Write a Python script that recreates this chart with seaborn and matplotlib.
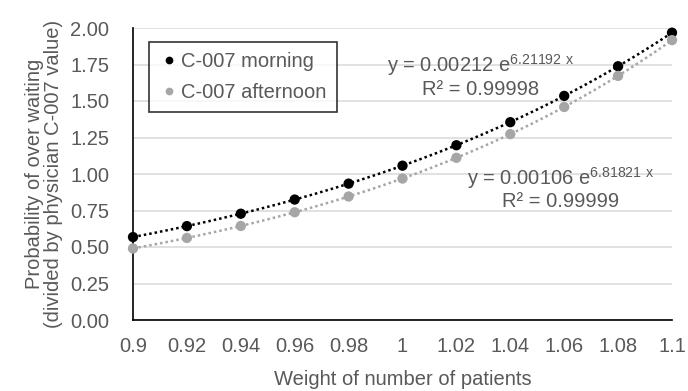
import numpy as np
import pandas as pd
import matplotlib
matplotlib.use("Agg")
import matplotlib.pyplot as plt
import seaborn as sns
from matplotlib.ticker import MultipleLocator, FuncFormatter

weights = [0.90, 0.92, 0.94, 0.96, 0.98, 1.00, 1.02, 1.04, 1.06, 1.08, 1.10]
morning = [0.568, 0.643, 0.728, 0.825, 0.934, 1.057, 1.197, 1.355, 1.535, 1.738, 1.968]
afternoon = [0.490, 0.562, 0.644, 0.738, 0.846, 0.969, 1.111, 1.273, 1.459, 1.672, 1.917]
series_names = ["C-007 morning", "C-007 afternoon"]
eq_texts = ["y = 0.00212 e$^{6.21192\\ x}$\nR² = 0.99998",
            "y = 0.00106 e$^{6.81821\\ x}$\nR² = 0.99999"]

sns.set_style("white")
plt.rcParams['font.family'] = ['Liberation Sans', 'DejaVu Sans']
plt.rcParams['mathtext.default'] = 'regular'

FS = 14.5
text_color = "#595959"
colors = {"C-007 morning": "#000000", "C-007 afternoon": "#A6A6A6"}

df = pd.DataFrame({
    "x": weights * 2,
    "y": morning + afternoon,
    "series": [series_names[0]] * len(weights) + [series_names[1]] * len(weights),
})

fig = plt.figure(figsize=(6.88, 3.91), dpi=100)
ax = fig.add_axes([133/688, 1 - 320/391, (672-133)/688, (320-28)/391])

# trendlines (exponential fit)
xs = np.linspace(min(weights), max(weights), 200)
for name, vals in zip(series_names, [morning, afternoon]):
    b, ln_a = np.polyfit(weights, np.log(vals), 1)
    ys = np.exp(ln_a) * np.exp(b * xs)
    sns.lineplot(x=xs, y=ys, ax=ax, color=colors[name], linestyle=(0, (1, 1.2)),
                 linewidth=1.8, legend=False, zorder=2)

sns.scatterplot(data=df, x="x", y="y", hue="series", palette=colors, ax=ax,
                s=55, edgecolor="none", zorder=3, clip_on=False)

ax.set_xlim(0.9, 1.1)
ax.set_ylim(0, 2.0)
ax.yaxis.set_major_locator(MultipleLocator(0.25))
ax.yaxis.set_minor_locator(MultipleLocator(0.125))
ax.xaxis.set_major_locator(MultipleLocator(0.02))
ax.xaxis.set_minor_locator(MultipleLocator(0.005))
ax.yaxis.set_major_formatter(FuncFormatter(lambda v, p: f"{v:.2f}"))
ax.xaxis.set_major_formatter(FuncFormatter(lambda v, p: f"{round(v, 2):g}"))

ax.grid(axis="y", color="#D9D9D9", linewidth=1.1)
ax.set_axisbelow(True)
for s in ["top", "right"]:
    ax.spines[s].set_visible(False)
for s in ["left", "bottom"]:
    ax.spines[s].set_color("black")
    ax.spines[s].set_linewidth(1.2)

ax.tick_params(axis="both", which="both", direction="in", color="black",
               labelsize=FS, labelcolor=text_color, width=1)
ax.tick_params(axis="y", which="both", length=4, pad=17)
ax.tick_params(axis="x", which="major", length=5, pad=12)
ax.tick_params(axis="x", which="minor", length=3.5)

ax.set_xlabel("Weight of number of patients", fontsize=FS, color=text_color, labelpad=10.5)
ax.set_ylabel("Probability of over waiting\n(divided by physician C-007 value)",
              fontsize=FS, color=text_color, labelpad=5, linespacing=1.0)

ax.text(1.0288, 1.675, eq_texts[0], ha="center", va="center", fontsize=FS,
        color=text_color, linespacing=1.1)
ax.text(1.0588, 0.905, eq_texts[1], ha="center", va="center", fontsize=FS,
        color=text_color, linespacing=1.1)

leg = ax.legend(loc="upper left", bbox_to_anchor=(0.011, 0.986), frameon=True,
                fontsize=FS, handletextpad=0.1, borderpad=0.5, labelspacing=0.6,
                handlelength=1.0, fancybox=False, edgecolor="black", markerscale=0.75)
leg.get_frame().set_linewidth(1.2)
for t in leg.get_texts():
    t.set_color(text_color)

fig.savefig("out.png", dpi=100)
